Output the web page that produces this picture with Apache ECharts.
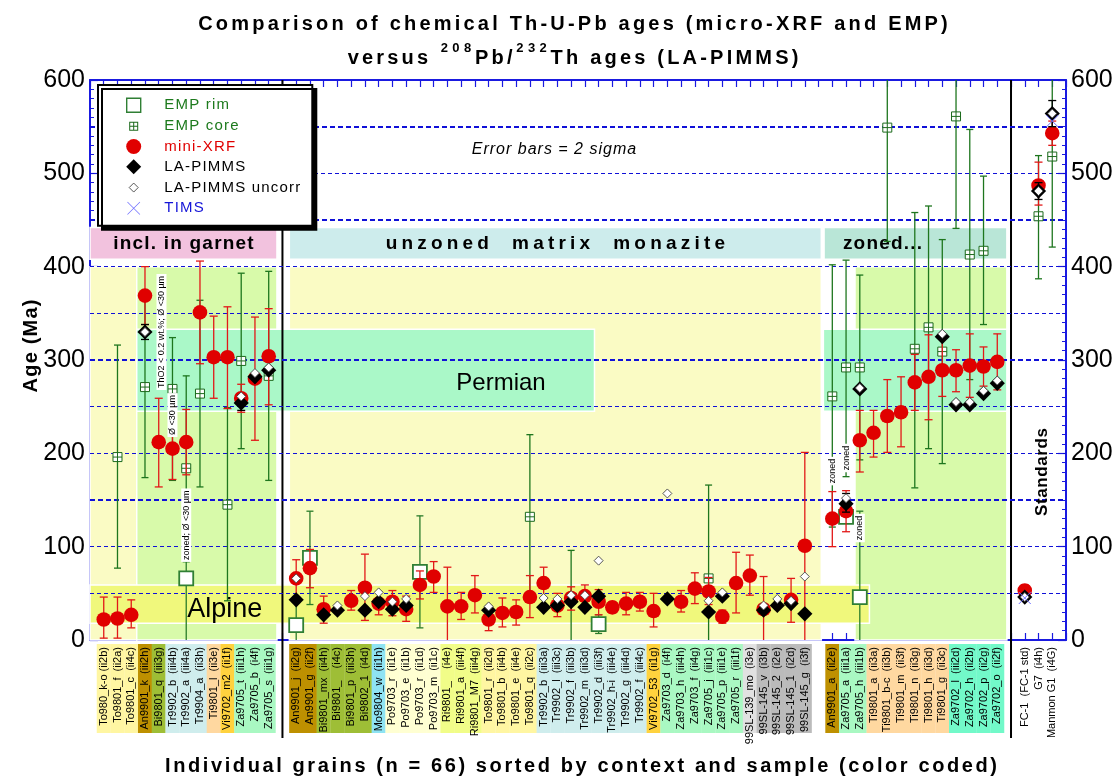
<!DOCTYPE html>
<html>
<head>
<meta charset="utf-8">
<title>Th-U-Pb ages</title>
<script src="https://cdn.jsdelivr.net/npm/echarts@6/dist/echarts.min.js"></script>
<style>
  html, body { margin: 0; padding: 0; background: #ffffff; }
  #chart { width: 1120px; height: 782px; }
</style>
</head>
<body>
<div id="chart"></div>
<script>
const _ = null;

// ---- grains, grouped by textural context -------------------------------
const garnetGrains = ['To980_k-o (ii2b)', 'To9801_f  (ii2a)', 'To9801_c  (ii4c)', 'An9901_k  (iii2h)',
  'Bi9801_q  (iii3g)', 'Tr9902_b  (iii4b)', 'Tr9902_a  (iii4a)', 'Tr9904_a  (ii3h)', 'Ti9801_l  (ii3e)',
  'Vi9702_m2  (ii1f)', 'Za9705_t  (iii1h)', 'Za9705_b  (i4f)', 'Za9705_s  (iii1g)'];
const matrixGrains = ['An9901_j  (ii2g)', 'An9901_g  (ii2f)', 'Bi9801_mx  (ii4h)', 'Bi9801_    (i4c)',
  'Bi9801_p  (iii3h)', 'Bi9802_1  (i4d)', 'Mo9804_w  (ii1h)', 'Po9703_r  (ii1e)', 'Po9703_e  (ii1b)',
  'Po9703_r  (ii1d)', 'Po9703_m  (ii1c)', 'Ri9801_    (i4e)', 'Ri9801_a  (iii4f)', 'Ri9801_M7  (iii4g)',
  'To9801_r  (ii2d)', 'To9801_b  (ii4b)', 'To9801_e  (ii4e)', 'To9801_q  (ii2c)', 'Tr9902_b  (iii3a)',
  'Tr9902_l  (iii3c)', 'Tr9902_f  (iii3b)', 'Tr9902_m  (iii3d)', 'Tr9902_d  (iii3f)', 'Tr9902_h-i  (iii4e)',
  'Tr9902_g  (iii4d)', 'Tr9902_f  (iii4c)', 'Vi9702_53  (ii1g)', 'Za9703_d  (i4f)', 'Za9703_h  (iii4h)',
  'Za9703_f  (ii4g)', 'Za9705_j  (iii1c)', 'Za9705_p  (iii1e)', 'Za9705_r  (iii1f)', '99SL-139_mo  (i3e)',
  '99SL-145_v  (i3b)', '99SL-145_2  (i2e)', '99SL-145_1  (i2d)', '99SL-145_g  (i3f)'];
const zonedGrains = ['An9901_a  (ii2e)', 'Za9705_a  (iii1a)', 'Za9705_h  (iii1b)', 'Ti9801_a  (ii3a)',
  'Ti9801_b-c  (ii3b)', 'Ti9801_m  (ii3f)', 'Ti9801_n  (ii3g)', 'Ti9801_h  (ii3d)', 'Ti9801_g  (ii3c)',
  'Za9702_l  (iii2d)', 'Za9702_h  (ii2b)', 'Za9702_p  (ii2g)', 'Za9702_o  (ii2f)'];
const standardGrains = ['FC-1  (FC-1 std)', 'G7  (i4h)', 'Manmon G1  (i4G)'];
// first x slot of each group (one empty slot separates neighbouring groups)
const groupStart = [1, 15, 54, 68];

// ---- ages in Ma, one entry per grain in the order garnet | matrix | zoned | standards
// mini-XRF (chemical age) with 2 sigma limits
const xrfAge = [
  22, 23, 27, 369, 212, 205, 212, 351, 303, 303, 259, 280, 304,
  66, 77, 33, _, 42, 56, 39, 41, 33, 59,
  68, 36, 36, 48, 22, 29, 30, 46, 61, 37,
  45, 47, 41, 35, 39, 41, 31, _, 41, 55,
  52, 25, 61, 69, 33, _, 43, 101,
  130, 138, 214, 222, 240, 244, 276, 282, 289, 289, 294, 293, 298,
  53, 487, 543];
const xrfLow = [
  2, 2, 13, 338, 164, 172, 177, 296, 259, 248, 244, 214, 252,
  46, 56, 18, _, 32, 21, 27, 26, 20, 44,
  51, -6, 22, 29, 10, 14, 16, 24, 45, 25,
  32, 35, 27, 29, 27, 31, 14, _, 30, 39,
  38, 18, 29, 48, -2, _, 19, -1,
  100, 116, 180, 196, 201, 207, 246, 236, 261, 266, 260, 272, 268,
  47, 466, 530];
const xrfHigh = [
  46, 46, 43, 400, 259, 238, 247, 406, 347, 357, 274, 346, 355,
  86, 97, 47, _, 53, 92, 51, 53, 47, 74,
  84, 78, 51, 69, 35, 45, 43, 69, 78, 50,
  57, 59, 54, 41, 51, 51, 50, _, 53, 72,
  67, 32, 94, 91, 68, _, 66, 201,
  159, 160, 246, 246, 279, 282, 306, 327, 328, 311, 328, 314, 328,
  59, 512, 556];

// LA-PIMMS 208Pb/232Th ages (common-Pb corrected) and limits where drawn
const laAge = [
  _, _, _, 330, _, _, _, _, _, _, 254, 282, 289,
  43, _, 27, 32, _, 32, 41, 33, 37, _,
  _, _, _, _, 32, _, _, _, 35, 37,
  41, 35, 47, _, _, _, _, 44, _, _,
  30, 47, _, _, 32, 37, 39, 28,
  _, 146, 269, _, _, _, _, _, 325, 252, 252, 264, 275,
  46, 481, 564];
const laLow = [
  _, _, _, 322, _, _, _, _, _, _, 246, _, _,
  _, _, _, _, _, _, _, _, _, _,
  _, _, _, _, _, _, _, _, _, _,
  _, _, _, _, _, _, _, _, _, _,
  _, _, _, _, _, _, _, _,
  _, 137, _, _, _, _, _, _, _, _, _, _, _,
  _, 472, 550];
const laHigh = [
  _, _, _, 338, _, _, _, _, _, _, 262, _, _,
  _, _, _, _, _, _, _, _, _, _,
  _, _, _, _, _, _, _, _, _, _,
  _, _, _, _, _, _, _, _, _, _,
  _, _, _, _, _, _, _, _,
  _, 157, _, _, _, _, _, _, _, _, _, _, _,
  _, 490, 578];
// LA-PIMMS ages without common-Pb correction
const uncorrAge = [
  _, _, _, 330, _, _, _, _, _, _, 261, 286, 292,
  66, _, _, 37, _, 47, 51, 41, 44, _,
  _, _, _, _, 36, _, _, _, 45, 44,
  48, 48, 85, _, _, _, _, 157, _, _,
  42, 51, _, _, 37, 44, 42, 68,
  _, 152, 270, _, _, _, _, _, 328, 255, 255, 267, 278,
  46, 481, 564];

// EMP chemical ages, cores and rims
const coreAge = [
  _, 196, _, 271, _, 269, 184, 264, _, 145, 299, _, 283,
  _, _, _, _, _, _, _, _, _, _,
  _, _, _, _, _, _, _, 132, _, _,
  43, _, _, _, _, _, _, _, _, _,
  66, _, _, _, _, _, _, _,
  261, 292, 292, _, 549, _, 312, 335, 309, 561, 413, 417, _,
  _, 454, 518];
const coreLow = [
  _, 77, _, 174, _, 171, 84, 164, _, 42, 205, _, 171,
  _, _, _, _, _, _, _, _, _, _,
  _, _, _, _, _, _, _, 44, _, _,
  -10, _, _, _, _, _, _, _, _, _,
  -34, _, _, _, _, _, _, _,
  121, 175, 193, _, 427, _, 163, 205, 189, 441, 279, 338, _,
  _, 387, 421];
const coreHigh = [
  _, 316, _, 368, _, 324, 283, 364, _, 249, 393, _, 395,
  _, _, _, _, _, _, _, _, _, _,
  _, _, _, _, _, _, _, 220, _, _,
  96, _, _, _, _, _, _, _, _, _,
  166, _, _, _, _, _, _, _,
  402, 407, 391, _, 671, _, 458, 465, 429, 681, 547, 497, _,
  _, 519, 615];
const rimAge = [
  _, _, _, _, _, _, 66, _, _, _, _, _, _,
  16, 88, _, _, _, _, _, _, _, 73,
  _, _, _, _, _, _, _, _, _, _,
  _, _, 17, _, _, _, _, _, _, _,
  _, _, _, _, _, _, _, _,
  _, 132, 46, _, _, _, _, _, _, _, _, _, _,
  _, _, _];
const rimLow = [
  _, _, _, _, _, _, -4, _, _, _, _, _, _,
  -14, 38, _, _, _, _, _, _, _, 13,
  _, _, _, _, _, _, _, _, _, _,
  _, _, 7, _, _, _, _, _, _, _,
  _, _, _, _, _, _, _, _,
  _, _, -46, _, _, _, _, _, _, _, _, _, _,
  _, _, _];
const rimHigh = [
  _, _, _, _, _, _, 84, _, _, _, _, _, _,
  46, 138, _, _, _, _, _, _, _, 133,
  _, _, _, _, _, _, _, _, _, _,
  _, _, 27, _, _, _, _, _, _, _,
  _, _, _, _, _, _, _, _,
  _, _, 138, _, _, _, _, _, _, _, _, _, _,
  _, _, _];
// TIMS reference ages of the standards
const timsAge = [
  _, _, _, _, _, _, _, _, _, _, _, _, _,
  _, _, _, _, _, _, _, _, _, _,
  _, _, _, _, _, _, _, _, _, _,
  _, _, _, _, _, _, _, _, _, _,
  _, _, _, _, _, _, _, _,
  _, _, _, _, _, _, _, _, _, _, _, _, _,
  45, _, 556];

// horizontal reference lines (Ma)
const boldLines = [150, 300, 450, 550];
const thinLines = [50, 100, 200, 250, 350, 400, 500];

// ---- layout helpers ------------------------------------------------------
const FONT = '"Liberation Sans", Arial, Helvetica, sans-serif';
const Y_MIN = 0, Y_MAX = 600, X_MAX = 71;
const AXIS_BLUE = '#1a1ae0';
const GRID_BLUE = '#1010d8';

const groups = [garnetGrains, matrixGrains, zonedGrains, standardGrains];
const grains = [].concat(...groups);
const slot = [];
groups.forEach((g, gi) => g.forEach((name, i) => slot.push(groupStart[gi] + i)));
const labelAtSlot = {};
grains.forEach((g, i) => { labelAtSlot[slot[i]] = g; });
const separators = [groupStart[1] - 1, groupStart[3] - 1];

function points(age, low, high) {
  const out = [];
  age.forEach((v, i) => {
    if (v == null) return;
    out.push([slot[i], v, low && low[i] != null ? low[i] : v, high && high[i] != null ? high[i] : v]);
  });
  return out;
}

// sample colour keys for the label boxes
const SAMPLE_COLORS = {
  to: '#FFF6A2', an: '#BE9000', bi: '#9EBE36', tr: '#CFEDED', ti: '#FFD8A0', vi: '#FFD23E',
  za: '#A9F8C2', za2: '#72F9C9', mo: '#8EE3F3', po: '#FFFFD2', ri: '#F1FD88',
  sl1: '#E1E1E1', sl2: '#BBBBBB', std: null
};
function sampleKey(name) {
  if (name.startsWith('To')) return 'to';
  if (name.startsWith('An')) return 'an';
  if (name.startsWith('Bi')) return 'bi';
  if (name.startsWith('Tr')) return 'tr';
  if (name.startsWith('Ti')) return 'ti';
  if (name.startsWith('Vi')) return 'vi';
  if (name.startsWith('Za9702')) return 'za2';
  if (name.startsWith('Za')) return 'za';
  if (name.startsWith('Mo')) return 'mo';
  if (name.startsWith('Po')) return 'po';
  if (name.startsWith('Ri')) return 'ri';
  if (name.startsWith('99SL-139')) return 'sl1';
  if (name.startsWith('99SL')) return 'sl2';
  return 'std';
}
const labelRich = {};
Object.keys(SAMPLE_COLORS).forEach(k => {
  labelRich[k] = {
    backgroundColor: SAMPLE_COLORS[k] || 'transparent',
    width: 86, height: 14, lineHeight: 14, align: 'right', padding: [0, 3, 0, 0],
    fontSize: 11, fontFamily: FONT, color: '#000'
  };
});

// character-spaced text as rich tokens
function spaced(str, key) {
  return Array.from(str).map(ch => '{' + key + '|' + ch + '}').join('');
}

// ---- marks -------------------------------------------------------------
function errorBar(api, x, lo, hi, color, half) {
  const out = [];
  const top = Math.min(hi, Y_MAX), bot = Math.max(lo, Y_MIN);
  if (!(top > bot)) return out;
  const p1 = api.coord([x, top]), p2 = api.coord([x, bot]);
  const st = { stroke: color, lineWidth: 1.3 };
  out.push({ type: 'line', shape: { x1: p1[0], y1: p1[1], x2: p2[0], y2: p2[1] }, style: st });
  if (hi <= Y_MAX) out.push({ type: 'line', shape: { x1: p1[0] - half, y1: p1[1], x2: p1[0] + half, y2: p1[1] }, style: st });
  if (lo >= Y_MIN) out.push({ type: 'line', shape: { x1: p2[0] - half, y1: p2[1], x2: p2[0] + half, y2: p2[1] }, style: st });
  return out;
}
function diamond(cx, cy, h) {
  return [[cx, cy - h], [cx + h, cy], [cx, cy + h], [cx - h, cy]];
}
const MARKERS = {
  rim: (cx, cy) => [{ type: 'rect', shape: { x: cx - 7, y: cy - 7, width: 14, height: 14 },
    style: { fill: '#ffffff', stroke: '#2f7f34', lineWidth: 1.8 } }],
  core: (cx, cy) => [
    { type: 'rect', shape: { x: cx - 4.5, y: cy - 4.5, width: 9, height: 9 }, style: { fill: '#ffffff', stroke: '#1c6a1c', lineWidth: 1 } },
    { type: 'line', shape: { x1: cx, y1: cy - 4.5, x2: cx, y2: cy + 4.5 }, style: { stroke: '#1c6a1c', lineWidth: 1 } },
    { type: 'line', shape: { x1: cx - 4.5, y1: cy, x2: cx + 4.5, y2: cy }, style: { stroke: '#1c6a1c', lineWidth: 1 } }],
  xrf: (cx, cy) => [{ type: 'circle', shape: { cx, cy, r: 7.3 }, style: { fill: '#e00000' } }],
  la: (cx, cy) => [{ type: 'polygon', shape: { points: diamond(cx, cy, 7.6) }, style: { fill: '#000000' } }],
  uncorr: (cx, cy) => [{ type: 'polygon', shape: { points: diamond(cx, cy, 4.5) },
    style: { fill: '#ffffff', stroke: '#444444', lineWidth: 0.9 } }],
  tims: (cx, cy) => [
    { type: 'line', shape: { x1: cx - 6, y1: cy - 6, x2: cx + 6, y2: cy + 6 }, style: { stroke: '#6f6fff', lineWidth: 1 } },
    { type: 'line', shape: { x1: cx + 6, y1: cy - 6, x2: cx - 6, y2: cy + 6 }, style: { stroke: '#6f6fff', lineWidth: 1 } }]
};
function measureSeries(name, data, marker, barColor, capHalf) {
  return {
    name, type: 'custom', coordinateSystem: 'cartesian2d', data,
    encode: { x: 0, y: 1 }, silent: true, z: 5,
    itemStyle: { color: barColor },
    renderItem(params, api) {
      const x = api.value(0), v = api.value(1), lo = api.value(2), hi = api.value(3);
      const children = [];
      if (hi > lo) children.push(...errorBar(api, x, lo, hi, barColor, capHalf));
      const p = api.coord([x, v]);
      children.push(...MARKERS[marker](p[0], p[1]));
      return { type: 'group', children };
    }
  };
}

// ---- background fields ----------------------------------------------
function area(x0, x1, y0, y1, color, label) {
  const a = { xAxis: x0, yAxis: y0, itemStyle: { color, borderColor: '#ffffff', borderWidth: 1.5 } };
  if (label) a.label = label;
  return [a, { xAxis: x1, yAxis: y1 }];
}
const headerRich = {
  h: { fontSize: 19, fontWeight: 'bold', fontFamily: FONT, color: '#000', padding: [0, 0.6] },
  w: { fontSize: 19, fontWeight: 'bold', fontFamily: FONT, color: '#000', padding: [0, 2.1] }
};
const bgAreas = [
  area(0, 3.4, 0, 400, '#FAFBC4'),
  area(3.4, 13.6, 0, 400, '#D8FAAA'),
  area(14.5, 53.2, 0, 400, '#FAFBC4'),
  area(55.65, 66.7, 0, 400, '#D8FAAA'),
  area(3.4, 36.7, 245, 333, '#AAF8C8'),
  area(53.35, 66.7, 245, 333, '#AAF8C8'),
  area(0, 56.7, 18, 59, '#F0F87C'),
  area(0, 13.6, 408, 442, '#F2C2DE', { show: true, position: 'inside', formatter: spaced('incl. in garnet', 'h'), rich: headerRich }),
  area(14.5, 53.2, 408, 442, '#CDECEC', { show: true, position: 'inside', formatter: spaced('unzoned  matrix  monazite', 'w'), rich: headerRich }),
  area(53.4, 66.7, 408, 442, '#B9E6D7', { show: true, position: 'insideLeft', distance: 19, formatter: spaced('zoned...', 'h'), rich: headerRich })
];

const gridLines = []
  .concat(thinLines.map(v => ({ yAxis: v, lineStyle: { color: GRID_BLUE, width: 1, type: [4, 3] } })))
  .concat(boldLines.map(v => ({ yAxis: v, lineStyle: { color: GRID_BLUE, width: 2.2, type: [5, 3] } })));

// free text inside the plot
const notes = [
  { x: 29.9, y: 275, text: 'Permian', fontSize: 24 },
  { x: 9.8, y: 33, text: 'Alpine', fontSize: 27 },
  { x: 33.75, y: 525, text: 'Error bars = 2 sigma', fontSize: 16, fontStyle: 'italic', spacing: 1.0 },
  { x: 69.3, y: 180, text: 'Standards', fontSize: 17, fontWeight: 'bold', rotate: true, spacing: 0.6 },
  { x: 5.2, y: 330, text: 'ThO2 < 0.2 wt.%; Ø <30 µm', fontSize: 9, rotate: true, box: true },
  { x: 6, y: 241, text: 'Ø <30 µm', fontSize: 9, rotate: true, box: true },
  { x: 7, y: 123, text: 'zoned; Ø <30 µm', fontSize: 9, rotate: true, box: true },
  { x: 54, y: 181, text: 'zoned', fontSize: 9, rotate: true, box: true },
  { x: 55, y: 195, text: 'zoned', fontSize: 9, rotate: true, box: true },
  { x: 56, y: 120, text: 'zoned', fontSize: 9, rotate: true, box: true }
];

// ---- legend icons (drawn in a 50 x 15 frame, symbol centred) -----------
const FRAME = 'path://M0,0M50,15';
const ICON_RIM = FRAME + 'M18,0.5H32V14.5H18Z';
const ICON_CORE = FRAME + 'M20.5,3H29.5V12H20.5ZM21.5,4V11H28.5V4ZM24.5,4H25.5V11H24.5ZM21.5,7H28.5V8H21.5Z';
const ICON_XRF = FRAME + 'M25,0A7.5,7.5,0,1,1,25,15A7.5,7.5,0,1,1,25,0Z';
const ICON_LA = FRAME + 'M25,0L32.5,7.5L25,15L17.5,7.5Z';
const ICON_UNCORR = FRAME + 'M25,3L29.5,7.5L25,12L20.5,7.5Z';
const ICON_TIMS = FRAME + 'M18.5,1.5L19,1L31.5,13.5L31,14ZM31,1L31.5,1.5L19,14L18.5,13.5Z';

const legendRich = { s: { padding: [0, 0.6], fontSize: 15, fontFamily: FONT } };

const chart = echarts.init(document.getElementById('chart'), null, { renderer: 'canvas' });

const titleRich = {
  t: { fontSize: 20, fontWeight: 'bold', fontFamily: FONT, fill: '#000', padding: [0, 1.6], lineHeight: 26, verticalAlign: 'bottom' },
  u: { fontSize: 13, fontWeight: 'bold', fontFamily: FONT, fill: '#000', padding: [0, 2.2], lineHeight: 17, verticalAlign: 'top' },
  a: { fontSize: 20, fontWeight: 'bold', fontFamily: FONT, fill: '#000', padding: [0, 1.3] },
  y: { fontSize: 20, fontWeight: 'bold', fontFamily: FONT, fill: '#000', padding: [0, 0.6] }
};

const option = {
  animation: false,
  textStyle: { fontFamily: FONT },
  grid: { left: 90, right: 54, top: 80, bottom: 142, outerBoundsMode: 'none' },
  legend: {
    orient: 'vertical', left: 98, top: 85, z: 30,
    padding: [12, 12, 10, 10], itemWidth: 50, itemHeight: 15, itemGap: 5.3,
    backgroundColor: '#ffffff', borderColor: '#000000', borderWidth: 2,
    shadowColor: '#000000', shadowBlur: 0, shadowOffsetX: 4, shadowOffsetY: 4,
    selectedMode: false, symbolKeepAspect: true,
    formatter: name => spaced(name, 's'),
    textStyle: { fontSize: 15, fontFamily: FONT, rich: legendRich },
    data: [
      { name: 'EMP rim', icon: ICON_RIM, itemStyle: { color: '#ffffff', borderColor: '#2f7f34', borderWidth: 1.4 }, textStyle: { color: '#1d7a1d' } },
      { name: 'EMP core', icon: ICON_CORE, itemStyle: { color: '#1c6a1c', borderWidth: 0 }, textStyle: { color: '#1d7a1d' } },
      { name: 'mini-XRF', icon: ICON_XRF, itemStyle: { color: '#e00000', borderWidth: 0 }, textStyle: { color: '#e00000' } },
      { name: 'LA-PIMMS', icon: ICON_LA, itemStyle: { color: '#000000', borderWidth: 0 }, textStyle: { color: '#000000' } },
      { name: 'LA-PIMMS uncorr', icon: ICON_UNCORR, itemStyle: { color: '#ffffff', borderColor: '#444444', borderWidth: 0.9 }, textStyle: { color: '#000000' } },
      { name: 'TIMS', icon: ICON_TIMS, itemStyle: { color: '#7070ff', borderWidth: 0 }, textStyle: { color: '#1414d8' } }
    ]
  },
  xAxis: [
    {
      type: 'value', position: 'bottom', min: 0, max: X_MAX, interval: 1,
      axisLine: { onZero: false, lineStyle: { color: AXIS_BLUE, width: 2 } },
      axisTick: { inside: true, length: 7, lineStyle: { color: AXIS_BLUE, width: 1.2 } },
      splitLine: { show: false },
      axisLabel: {
        rotate: 90, margin: 4, showMinLabel: true, showMaxLabel: true,
        formatter: v => {
          const name = labelAtSlot[Math.round(v)];
          return name ? '{' + sampleKey(name) + '|' + name + '}' : '';
        },
        rich: labelRich
      }
    },
    {
      type: 'value', position: 'top', min: 0, max: X_MAX, interval: 1,
      axisLine: { onZero: false, lineStyle: { color: AXIS_BLUE, width: 2 } },
      axisTick: { inside: true, length: 7, lineStyle: { color: AXIS_BLUE, width: 1.2 } },
      axisLabel: { show: false }, splitLine: { show: false }
    }
  ],
  yAxis: ['left', 'right'].map(pos => ({
    type: 'value', position: pos, min: Y_MIN, max: Y_MAX, interval: 100,
    axisLine: { show: true, onZero: false, lineStyle: { color: AXIS_BLUE, width: 2 } },
    axisTick: { show: true, inside: true, length: 8, lineStyle: { color: AXIS_BLUE, width: 1.2 } },
    minorTick: { show: true, splitNumber: 10, length: 4, lineStyle: { color: AXIS_BLUE, width: 1 } },
    splitLine: { show: false }, minorSplitLine: { show: false },
    axisLabel: { fontSize: 25, color: '#000', margin: 5, fontFamily: FONT }
  })),
  graphic: [
    { type: 'text', x: 573, y: 21, style: { text: spaced('Comparison of chemical Th-U-Pb ages (micro-XRF and EMP)', 't'), rich: titleRich, align: 'center', verticalAlign: 'middle' } },
    { type: 'text', x: 573, y: 55, style: {
      text: spaced('versus ', 't') + spaced('208', 'u') + spaced('Pb/', 't') + spaced('232', 'u') + spaced('Th ages (LA-PIMMS)', 't'),
      rich: titleRich, align: 'center', verticalAlign: 'middle' } },
    { type: 'text', x: 581, y: 766, style: { text: spaced('Individual grains (n = 66) sorted by context and sample (color coded)', 'a'), rich: titleRich, align: 'center', verticalAlign: 'middle' } },
    { type: 'text', x: 31, y: 346, rotation: Math.PI / 2, style: { text: spaced('Age (Ma)', 'y'), rich: titleRich, align: 'center', verticalAlign: 'middle' } }
  ],
  series: [
    {
      name: 'fields', type: 'line', data: [], silent: true, z: 1,
      markArea: { silent: true, data: bgAreas }
    },
    {
      name: 'reference lines', type: 'line', data: [], silent: true, z: 2,
      markLine: { silent: true, symbol: ['none', 'none'], label: { show: false }, data: gridLines }
    },
    {
      name: 'group separators', type: 'custom', coordinateSystem: 'cartesian2d', silent: true, z: 3, clip: false,
      data: separators.map(x => [x, 0]), encode: { x: 0, y: 1 },
      renderItem(params, api) {
        const x = api.value(0);
        const top = api.coord([x, Y_MAX]), bot = api.coord([x, Y_MIN]);
        return { type: 'line', shape: { x1: top[0], y1: top[1], x2: bot[0], y2: bot[1] + 98 }, style: { stroke: '#000', lineWidth: 2 } };
      }
    },
    measureSeries('EMP rim', points(rimAge, rimLow, rimHigh), 'rim', '#2a7c2a', 3.5),
    measureSeries('EMP core', points(coreAge, coreLow, coreHigh), 'core', '#1e761e', 3.5),
    measureSeries('mini-XRF', points(xrfAge, xrfLow, xrfHigh), 'xrf', '#e21818', 4),
    measureSeries('LA-PIMMS', points(laAge, laLow, laHigh), 'la', '#000000', 4),
    measureSeries('LA-PIMMS uncorr', points(uncorrAge), 'uncorr', '#444444', 3),
    measureSeries('TIMS', points(timsAge), 'tims', '#6f6fff', 3),
    {
      name: 'notes', type: 'custom', coordinateSystem: 'cartesian2d', silent: true, z: 8, clip: false,
      data: notes.map(n => [n.x, n.y]), encode: { x: 0, y: 1 },
      renderItem(params, api) {
        const n = notes[params.dataIndex];
        const p = api.coord([api.value(0), api.value(1)]);
        const base = { fontSize: n.fontSize, fontFamily: FONT, fontWeight: n.fontWeight || 'normal', fontStyle: n.fontStyle || 'normal', fill: '#000' };
        const style = { align: 'center', verticalAlign: 'middle' };
        if (n.spacing) {
          style.text = spaced(n.text, 'c');
          style.rich = { c: Object.assign({}, base, { padding: [0, n.spacing / 2] }) };
        } else {
          Object.assign(style, base, { text: n.text });
        }
        if (n.box) { style.backgroundColor = '#ffffff'; style.padding = [1, 2, 0, 2]; }
        return { type: 'text', x: p[0], y: p[1], rotation: n.rotate ? Math.PI / 2 : 0, style };
      }
    }
  ]
};
chart.setOption(option);
</script>
</body>
</html>
